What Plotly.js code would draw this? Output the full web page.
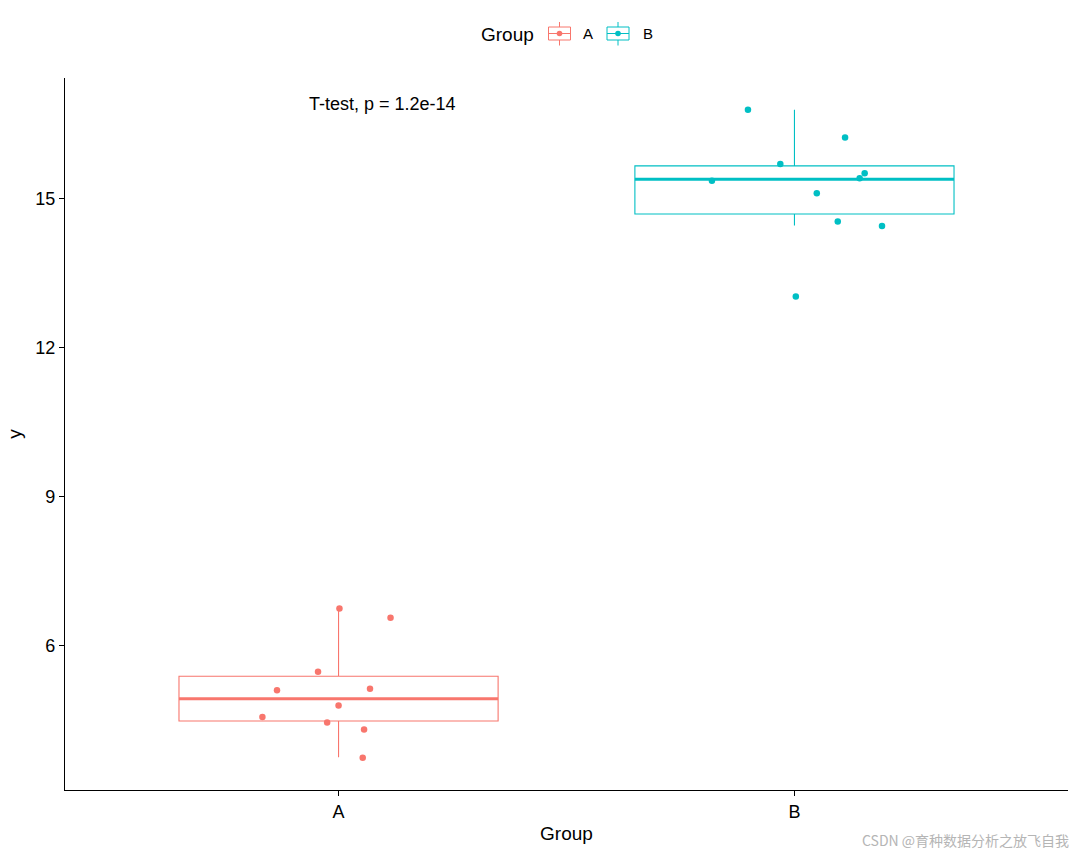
<!DOCTYPE html>
<html>
<head>
<meta charset="utf-8">
<script src="https://cdn.plot.ly/plotly-3.0.1.min.js"></script>
<style>html,body{margin:0;padding:0;background:#fff;}#chart{width:1080px;height:852px;}</style>
</head>
<body>
<div id="chart"></div>
<script>
// Categories
const groups = ['A', 'B'];
const groupPos = [1, 2];
const colors = ['#F8766D', '#00BFC4'];

// Box statistics
const q1 = [4.48, 14.69];
const medians = [4.93, 15.39];
const q3 = [5.38, 15.66];
const lowerFence = [3.75, 14.46];
const upperFence = [6.745, 16.79];

// Jittered points (x = jittered position, y = value)
const xA = [1.002, 1.114, 0.955, 0.865, 1.069, 1.000, 0.833, 0.975, 1.056, 1.053];
const yA = [6.745, 6.557, 5.47, 5.10, 5.13, 4.79, 4.56, 4.45, 4.31, 3.74];
const xB = [1.898, 2.111, 1.969, 2.154, 2.143, 1.819, 2.049, 2.095, 2.192, 2.003];
const yB = [16.79, 16.23, 15.70, 15.51, 15.41, 15.36, 15.11, 14.54, 14.45, 13.03];

const yTicks = [6, 9, 12, 15];
const annotationText = 'T-test, p = 1.2e-14';
const legendTitle = 'Group';

const boxWidth = 0.7;
const traces = [];
groups.forEach((g, i) => {
  traces.push({
    type: 'box',
    name: g,
    x: [groupPos[i]],
    q1: [q1[i]], median: [medians[i]], q3: [q3[i]],
    lowerfence: [lowerFence[i]], upperfence: [upperFence[i]],
    boxpoints: false,
    width: boxWidth,
    whiskerwidth: 0,
    fillcolor: 'rgba(255,255,255,0)',
    line: {color: colors[i], width: 1.1},
    hoverinfo: 'skip', showlegend: false
  });
  traces.push({
    type: 'scatter', mode: 'lines',
    x: [groupPos[i] - boxWidth / 2, groupPos[i] + boxWidth / 2],
    y: [medians[i], medians[i]],
    line: {color: colors[i], width: 3},
    showlegend: false, hoverinfo: 'skip'
  });
});
traces.push({
  type: 'scatter', mode: 'markers', x: xA, y: yA,
  marker: {color: colors[0], size: 6.5}, showlegend: false
});
traces.push({
  type: 'scatter', mode: 'markers', x: xB, y: yB,
  marker: {color: colors[1], size: 6.5}, showlegend: false
});

// Manual legend (ggplot-style box keys), positioned in pixels converted to paper coords
const PL = 65, PR = 1068, PT = 78, PB = 790;
const px = x => (x - PL) / (PR - PL);
const py = y => (PB - y) / (PB - PT);
const shapes = [];
const annotations = [];
const keyLeft = [548.5, 607];
const textX = [584, 643.5];
groups.forEach((g, i) => {
  const l = keyLeft[i], r = l + 22, c = l + 11;
  const col = colors[i];
  shapes.push({type: 'rect', xref: 'paper', yref: 'paper', x0: px(l), x1: px(r), y0: py(40), y1: py(27),
    line: {color: col, width: 1}, fillcolor: 'rgba(0,0,0,0)'});
  shapes.push({type: 'line', xref: 'paper', yref: 'paper', x0: px(c), x1: px(c), y0: py(27), y1: py(22),
    line: {color: col, width: 1}});
  shapes.push({type: 'line', xref: 'paper', yref: 'paper', x0: px(c), x1: px(c), y0: py(40), y1: py(45.5),
    line: {color: col, width: 1}});
  shapes.push({type: 'line', xref: 'paper', yref: 'paper', x0: px(l), x1: px(r), y0: py(33.5), y1: py(33.5),
    line: {color: col, width: 1}});
  shapes.push({type: 'circle', xref: 'paper', yref: 'paper', x0: px(c - 2.8), x1: px(c + 2.8), y0: py(36.3), y1: py(30.7),
    line: {color: col, width: 0}, fillcolor: col});
  annotations.push({x: px(textX[i]), y: py(34), xref: 'paper', yref: 'paper', xshift: -3, text: g, showarrow: false,
    xanchor: 'left', yanchor: 'middle', font: {size: 15, color: '#000'}});
});
annotations.push({x: px(481.5), y: py(34.5), xref: 'paper', yref: 'paper', xshift: -3, text: legendTitle, showarrow: false,
  xanchor: 'left', yanchor: 'middle', font: {size: 19, color: '#000'}});
annotations.push({x: 0.935, y: 16.91, xref: 'x', yref: 'y', xshift: -2, text: annotationText, showarrow: false,
  xanchor: 'left', yanchor: 'middle', font: {size: 18, color: '#000'}});
annotations.push({x: px(1071), y: py(840), xref: 'paper', yref: 'paper',
  text: 'CSDN @育种数据分析之放飞自我', showarrow: false, xanchor: 'right', yanchor: 'middle',
  font: {size: 14, color: '#b5b5b5', family: 'Noto Sans CJK SC, sans-serif'}});

const layout = {
  width: 1080, height: 852,
  margin: {l: PL, r: 1080 - PR, t: PT, b: 852 - PB},
  paper_bgcolor: '#fff', plot_bgcolor: '#fff',
  font: {family: 'Liberation Sans, Arial, sans-serif', color: '#000'},
  showlegend: false,
  xaxis: {
    range: [0.4, 2.6],
    tickvals: groupPos, ticktext: groups,
    showgrid: false, zeroline: false,
    showline: true, linecolor: '#000', linewidth: 1.2,
    ticks: 'outside', ticklen: 5, tickcolor: '#000',
    tickfont: {size: 18},
    title: {text: 'Group', font: {size: 19}, standoff: 6}
  },
  yaxis: {
    range: [3.09, 17.43],
    tickvals: yTicks,
    showgrid: false, zeroline: false,
    showline: true, linecolor: '#000', linewidth: 1.2,
    ticks: 'outside', ticklen: 5, tickcolor: '#000',
    tickfont: {size: 18},
    title: {text: 'y', font: {size: 19}, standoff: 8}
  },
  shapes: shapes,
  annotations: annotations
};

Plotly.newPlot('chart', traces, layout, {displayModeBar: false, staticPlot: true});
</script>
</body>
</html>
